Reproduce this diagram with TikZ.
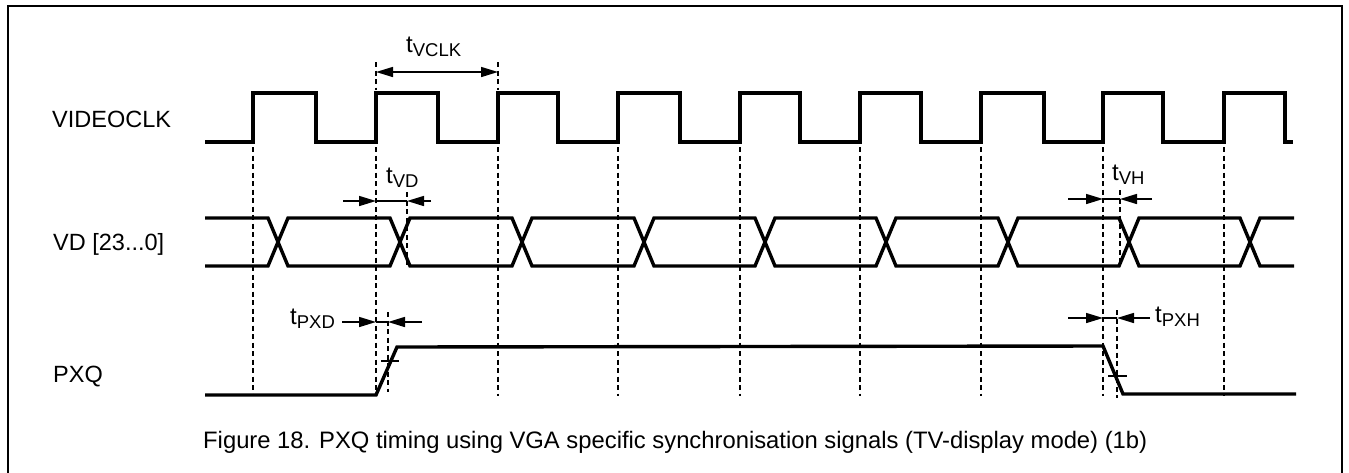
\documentclass[tikz,border=0pt]{standalone}
\usepackage{fontspec}
\setmainfont{Liberation Sans}
\usetikzlibrary{arrows.meta}
% timing label: t with a lowered subscript
\newcommand\tsym[1]{t\raisebox{-4.5pt}{\fontsize{18.5}{18.5}\selectfont #1}}
\begin{document}
\begin{tikzpicture}[x=1pt,y=-1pt,
  wave/.style={line width=3.4pt, line join=miter},
  guide/.style={line width=1.4pt, dash pattern=on 5pt off 3.5pt},
  dim/.style={line width=1.5pt},
  tip/.tip={Triangle[length=17pt,width=10pt]},
  dimarrow/.style={dim, -tip},
  lbl/.style={anchor=base west, inner sep=0pt, font=\fontsize{23.5}{27}\selectfont},
  tlbl/.style={anchor=base west, inner sep=0pt, font=\fontsize{24}{28}\selectfont},
  captext/.style={anchor=base west, inner sep=0pt, font=\fontsize{23.8}{28}\selectfont},
]
\useasboundingbox (0,0) rectangle (1349,472);
\clip (0,0) rectangle (1349,472);

% open frame round the figure
\draw[line width=2.4pt] (8,490) -- (8,6) -- (1342,6) -- (1342,490);

% signal names
\node[lbl] (nclk) at (52,127) {VIDEOCLK};
\node[lbl] (nvd)  at (53,250) {VD [23...0]};
\node[lbl] (npxq) at (53,382) {PXQ};

% clock reference lines at every rising edge
\foreach \x in {253,376,498,618,740,860,981,1103,1224}
  \draw[guide] (\x,147) -- (\x,396);
\draw[guide] (376,62) -- (376,90);
\draw[guide] (498,62) -- (498,90);

% VIDEOCLK
\draw[wave] (205,142)
  \foreach \r/\f in {253/316,376/438,498/558,618/680,740/800,860/921,981/1044,1103/1163,1224/1285}
    { -- (\r,142) -- (\r,93) -- (\f,93) -- (\f,142) } -- (1293,142);

% VD bus: two polylines crossing at every data change
\draw[wave] (205,218)
  \foreach \a/\b in {278/400,522/644,765/886,1008/1129}
    { -- ({\a-10},218) -- ({\a+10},266) -- ({\b-10},266) -- ({\b+10},218) }
  -- (1240,218) -- (1260,266) -- (1294,266);
\draw[wave] (205,266)
  \foreach \a/\b in {278/400,522/644,765/886,1008/1129}
    { -- ({\a-10},266) -- ({\a+10},218) -- ({\b-10},218) -- ({\b+10},266) }
  -- (1240,266) -- (1260,218) -- (1294,218);

% PXQ
\draw[wave] (205,395) -- (376,395) -- (397,347) -- (1103,346) -- (1123,394) -- (1296,394);
\draw[dim] (381,361) -- (399,361);
\draw[dim] (1108,376) -- (1127,376);

% extra reference lines at the data / PXQ edges
\draw[guide] (407,192) -- (407,266);
\draw[guide] (1120,190) -- (1120,264);
\draw[guide] (388,312) -- (388,392);
\draw[guide] (1117,310) -- (1117,398);

% t_VCLK
\coordinate (vclkA) at (376,72);
\coordinate (vclkB) at (498,72);
\draw[dim, tip-tip] (vclkA) -- (vclkB);
\node[tlbl] (lvclk) at (406,52) {\tsym{VCLK}};

% t_VD
\coordinate (vdA) at (343,201);
\coordinate (vdB) at (376,201);
\coordinate (vdC) at (407,201);
\coordinate (vdD) at (431,201);
\draw[dimarrow] (vdA) -- (vdB);
\draw[dim] (vdB) -- (vdC);
\draw[dimarrow] (vdD) -- (vdC);
\node[tlbl] (lvd) at (386,183) {\tsym{VD}};

% t_VH
\coordinate (vhA) at (1068,199);
\coordinate (vhB) at (1103,199);
\coordinate (vhC) at (1120,199);
\coordinate (vhD) at (1152,199);
\draw[dimarrow] (vhA) -- (vhB);
\draw[dim] (vhB) -- (vhC);
\draw[dimarrow] (vhD) -- (vhC);
\node[tlbl] (lvh) at (1112,180) {\tsym{VH}};

% t_PXD
\coordinate (pdA) at (342,322);
\coordinate (pdB) at (376,322);
\coordinate (pdC) at (388,322);
\coordinate (pdD) at (422,322);
\draw[dimarrow] (pdA) -- (pdB);
\draw[dim] (pdB) -- (pdC);
\draw[dimarrow] (pdD) -- (pdC);
\node[tlbl] (lpd) at (290,324) {\tsym{PXD}};

% t_PXH
\coordinate (phA) at (1068,318);
\coordinate (phB) at (1103,318);
\coordinate (phC) at (1117,318);
\coordinate (phD) at (1150,318);
\draw[dimarrow] (phA) -- (phB);
\draw[dim] (phB) -- (phC);
\draw[dimarrow] (phD) -- (phC);
\node[tlbl] (lph) at (1155,322) {\tsym{PXH}};

% caption
\node[captext] (caption) at (203,448) {Figure 18. PXQ timing using VGA specific synchronisation signals (TV-display mode) (1b)};
\end{tikzpicture}
\end{document}
